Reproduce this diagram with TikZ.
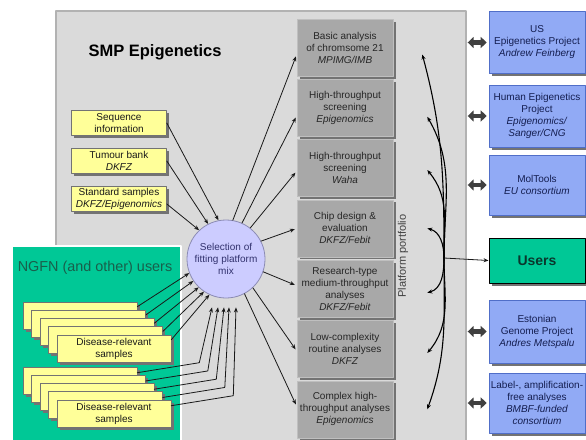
\documentclass[tikz,border=0pt]{standalone}
\usepackage{fontspec}
\setmainfont{Liberation Sans}
\usetikzlibrary{positioning}
\usetikzlibrary{arrows.meta,calc,shadows}
\definecolor{bggray}{RGB}{218,218,218}
\definecolor{boxgray}{RGB}{168,168,168}
\definecolor{sampyel}{RGB}{255,255,153}
\definecolor{partblue}{RGB}{145,170,245}
\definecolor{partedge}{RGB}{80,110,200}
\definecolor{usergreen}{RGB}{0,200,150}
\definecolor{mixlav}{RGB}{204,204,255}
\definecolor{navytxt}{RGB}{20,30,80}
\tikzstyle{every node}=[font=\fontsize{10}{12}\selectfont]
\tikzstyle{every path}=[line width=0.8pt,line cap=round,line join=round]
\tikzstyle{shade}=[drop shadow={shadow xshift=2.5pt,shadow yshift=-2.5pt,fill=black!55,opacity=1}]
\tikzstyle{sample}=[shade,draw=black!55,fill=sampyel,line width=0.6pt,minimum width=95pt,minimum height=25pt,inner sep=1pt,align=center,text=black!90]
\tikzstyle{platform}=[shade,draw=black!25,fill=boxgray,line width=0.6pt,minimum width=96pt,minimum height=57pt,inner sep=2pt,align=center,text=black!85]
\tikzstyle{partner}=[shade,draw=partedge,fill=partblue,line width=0.6pt,minimum width=96pt,inner sep=1.5pt,align=center,text=navytxt]
\tikzstyle{userbox}=[shade,draw=black,fill=usergreen,line width=1pt,minimum width=96pt,minimum height=45pt,font=\fontsize{14}{16}\selectfont\bfseries,text={rgb,255:red,10;green,55;blue,45}]
\tikzstyle{mixnode}=[circle,draw={rgb,255:red,140;green,140;blue,180},fill=mixlav,minimum size=78pt,inner sep=0pt,align=center,text={rgb,255:red,50;green,50;blue,110}]
\tikzstyle{feed}=[-{Stealth[length=5pt,width=4pt]},draw=black!90,line width=0.8pt]
\tikzstyle{curv}=[-{Stealth[length=5pt,width=4pt]},draw=black,line width=1.1pt]
\tikzstyle{dblarr}=[{Triangle[length=6pt,width=11pt]}-{Triangle[length=6pt,width=11pt]},draw=black!75,line width=4.5pt,line cap=butt]

\begin{document}
\begin{tikzpicture}[x=1pt,y=1pt]
  \useasboundingbox (0,0) rectangle (586,-439);
  \pgfpathrectangle{\pgfpointorigin}{\pgfpoint{586pt}{-439pt}}\pgfusepath{clip}
  % panels
  \draw[draw=black!30,fill=bggray,line width=1.2pt] (56,-11) rectangle (466,-450);
  \draw[draw=white,fill=usergreen,line width=1.8pt] (12,-246) rectangle (181,-450);
  \node[font=\fontsize{16.5}{18}\selectfont\bfseries] (title) at (155,-52) {SMP Epigenetics};
  \node[font=\fontsize{14.4}{16}\selectfont,text={rgb,255:red,25;green,95;blue,75}] (ngfn) at (95,-268) {NGFN (and other) users};
  %
  \node[sample] (seq) at (119,-123) {Sequence\\information};
  \node[sample] (tum) at (119,-161) {Tumour bank\\\textit{DKFZ}};
  \node[sample] (std) at (119,-199) {Standard samples\\\textit{DKFZ/Epigenomics}};
  \node[mixnode] (sel) at (226,-259) {Selection of\\fitting platform\\mix};
  % stacked samples
  \foreach \k in {0,...,3}{
    \node[sample,minimum width=114pt,minimum height=27pt] (ga\k) at ({80+8.5*\k},{-315.5-8.25*\k}) {};}
  \node[sample,minimum width=114pt,minimum height=27pt] (ga4) at (114,-348.5) {Disease-relevant\\samples};
  \foreach \k in {0,...,3}{
    \node[sample,minimum width=114pt,minimum height=27pt] (gb\k) at ({80+8.5*\k},{-380.5-8.25*\k}) {};}
  \node[sample,minimum width=114pt,minimum height=27pt] (gb4) at (114,-413.5) {Disease-relevant\\samples};
  % platforms
  \node[platform] (p1) at (345,-47.5) {Basic analysis\\of chromsome 21\\\textit{MPIMG/IMB}};
  \node[platform,below=2.7pt of p1] (p2) {High-throughput\\screening\\\textit{Epigenomics}};
  \node[platform,below=2.7pt of p2] (p3) {High-throughput\\screening\\\textit{Waha}};
  \node[platform,below=2.7pt of p3] (p4) {Chip design \&\\evaluation\\\textit{DKFZ/Febit}};
  \node[platform,below=2.7pt of p4] (p5) {Research-type\\medium-throughput\\analyses\\\textit{DKFZ/Febit}};
  \node[platform,below=2.7pt of p5] (p6) {Low-complexity\\routine analyses\\\textit{DKFZ}};
  \node[platform,below=2.7pt of p6] (p7) {Complex high-\\throughput analyses\\\textit{Epigenomics}};
  \node[rotate=90,font=\fontsize{11}{13}\selectfont,text=black!75] (pp) at (403,-256) {Platform portfolio};
  % partners
  \node[partner,minimum height=62pt] (usep) at (537,-42.5) {US\\Epigenetics Project\\\textit{Andrew Feinberg}};
  \node[partner,minimum height=62pt] (hep) at (537,-116) {Human Epigenetics\\Project\\\textit{Epigenomics/}\\\textit{Sanger/CNG}};
  \node[partner,minimum height=60pt] (mol) at (537,-185) {MolTools\\\textit{EU consortium}};
  \node[userbox] (users) at (537,-260.5) {Users};
  \node[partner,minimum height=63pt] (est) at (537,-331.5) {Estonian\\Genome Project\\\textit{Andres Metspalu}};
  \node[partner,minimum height=60pt] (lab) at (537,-403) {Label-, amplification-\\free analyses\\\textit{BMBF-funded}\\\textit{consortium}};
  \coordinate (hub) at (444,-258);
  %
  \draw[feed] (seq.east) -- (sel.101);
  \draw[feed] (tum.east) -- (sel.117);
  \draw[feed] ([yshift=-5pt]std.east) -- (sel.133);
  \foreach \k/\a in {0/201,1/214,2/226,3/236,4/245}
    \draw[feed] ([yshift=-5pt]ga\k.north east) -- (sel.\a);
  \foreach \k/\e in {0/-14,1/-8,2/-2,3/3,4/10}
    \draw[feed] ([yshift=-6pt]gb\k.north east) -- ++(62,10) -- ($(sel.south)+(\e,-9)$);
  \foreach \i/\a/\d in {1/80/-7,2/66/-8,3/52/-3,4/27/0,5/-19/3,6/-47/-2,7/-62/3}
    \draw[feed,shorten >=2pt] (sel.\a) -- ([yshift=\d pt]p\i.west);
  \foreach \i/\o/\n/\x/\y in {1/90/-75/29/-7,2/90/-60/34/-9,3/90/-50/34/-2,4/90/-15/34/0,5/-90/15/34/-4,6/-90/50/34/-4,7/-90/70/34/0}
    \draw[curv] (hub) to[out=\o,in=\n] ($(p\i.east)+(\x,\y)$);
  \draw[feed] (hub) -- (users.west);
  \foreach \n in {usep,hep,mol,est,lab}
    \draw[dblarr] ([xshift=-21pt]\n.west) -- ([xshift=-2pt]\n.west);
\end{tikzpicture}
\end{document}
